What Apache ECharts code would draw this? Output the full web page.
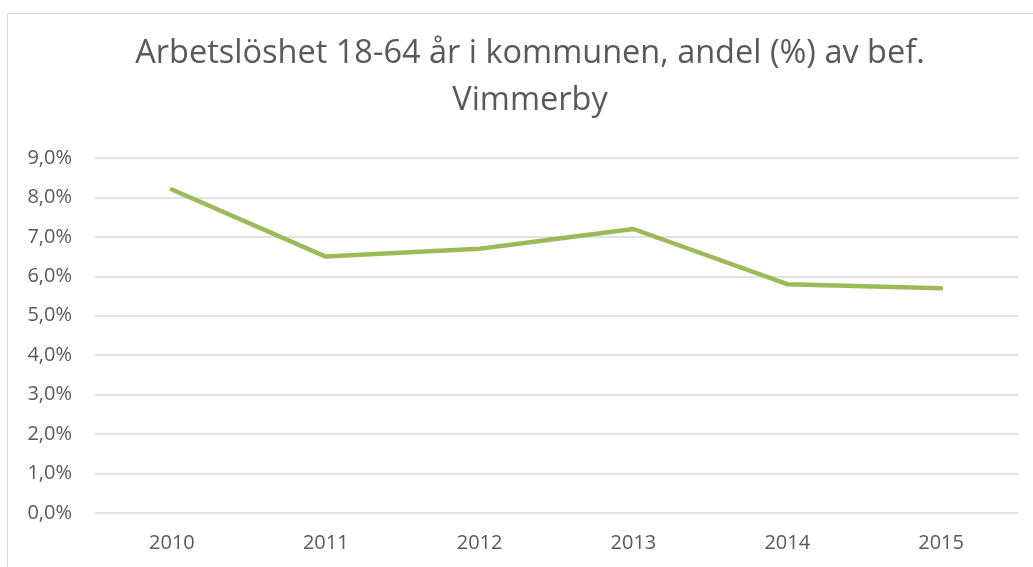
<!DOCTYPE html>
<html>
<head>
<meta charset="utf-8">
<script src="https://cdn.jsdelivr.net/npm/echarts@6/dist/echarts.min.js"></script>
<style>
  html, body { margin: 0; padding: 0; background: #fff; overflow: hidden; }
  #frame { position: absolute; left: 7px; top: 13px; width: 1060px; height: 570px; border-left: 1px solid #d9d9d9; border-top: 1px solid #d9d9d9; }
  /* the chart area is wider than the window, like the cropped original */
  #main { position: absolute; left: 0; top: 0; width: 1060px; height: 567px; }
</style>
</head>
<body>
<div id="frame"></div>
<div id="main"></div>
<script>
// data
var years = ['2010', '2011', '2012', '2013', '2014', '2015'];
var andel = [8.2, 6.5, 6.7, 7.2, 5.8, 5.7];
var titleText = 'Arbetslöshet 18-64 år i kommunen, andel (%) av bef.\nVimmerby';

var myChart = echarts.init(document.getElementById('main'));
myChart.setOption({
  animation: false,
  textStyle: { fontFamily: 'Open Sans' },
  title: {
    text: titleText,
    left: 'center',
    top: 30,
    padding: 0,
    textStyle: {
      color: '#595959',
      fontSize: 32.5,
      fontWeight: 'normal',
      fontFamily: 'Open Sans',
      lineHeight: 47,
      align: 'center'
    }
  },
  grid: { left: 95, right: 42, top: 158, bottom: 54, containLabel: false },
  xAxis: {
    type: 'category',
    data: years,
    boundaryGap: true,
    axisLine: { show: false },
    axisTick: { show: false },
    axisLabel: { color: '#595959', fontSize: 20, margin: 20 }
  },
  yAxis: {
    type: 'value',
    min: 0,
    max: 9,
    interval: 1,
    axisLine: { show: false },
    axisTick: { show: false },
    splitLine: { lineStyle: { color: '#d9d9d9', width: 1.5 } },
    axisLabel: {
      color: '#595959',
      fontSize: 20,
      margin: 23,
      formatter: function (v) { return v.toFixed(1).replace('.', ',') + '%'; }
    }
  },
  series: [{
    type: 'line',
    data: andel,
    symbol: 'none',
    lineStyle: { color: '#9bbb59', width: 4.5, cap: 'round', join: 'round' }
  }]
});
</script>
</body>
</html>
